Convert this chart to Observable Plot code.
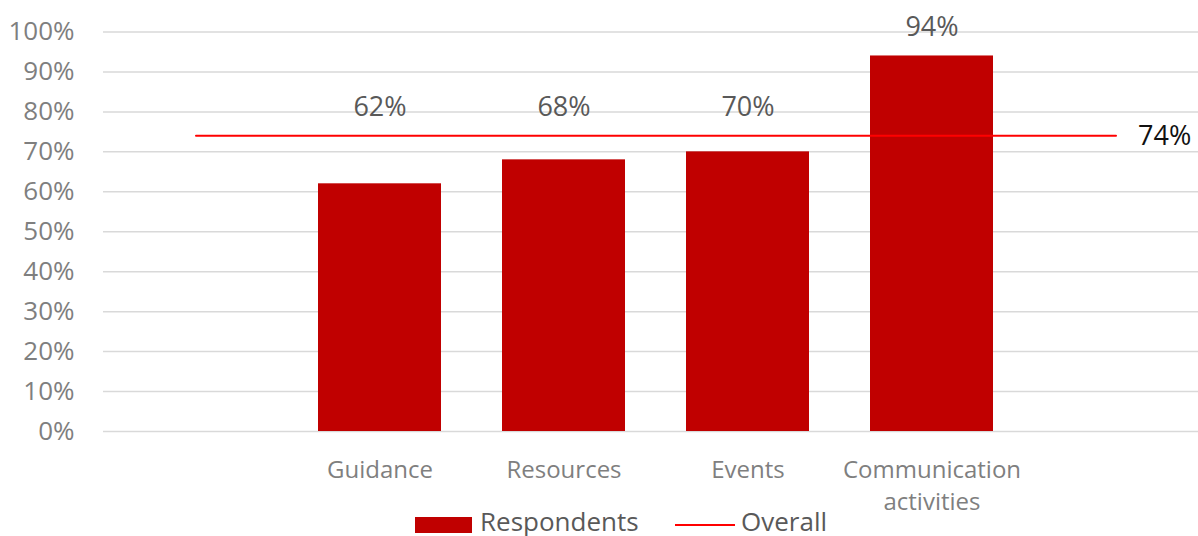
<!DOCTYPE html>
<html>
<head>
<meta charset="utf-8">
<script src="https://cdn.jsdelivr.net/npm/d3@7"></script>
<script src="https://cdn.jsdelivr.net/npm/@observablehq/plot@0.6"></script>
<style>
  body { margin: 0; background: #fff; font-family: 'Open Sans', sans-serif; }
  #wrap { width: 1198px; }
  #legend { position: relative; width: 1198px; height: 31px; }
  #legend .sw { position: absolute; }
  #legend .lb { position: absolute; font-size: 26px; color: #595959; line-height: normal; white-space: nowrap; }
</style>
</head>
<body>
<div id="wrap"></div>
<script>
const categories = ["Guidance", "Resources", "Events", "Communication\nactivities"];
const respondents = [62, 68, 70, 94];
const overall = 74;
const yTicks = [0, 10, 20, 30, 40, 50, 60, 70, 80, 90, 100];
// Excel chart has an empty category slot before and after the bars
const slots = ["", ...categories, " "];

const bars = categories.map((c, i) => ({category: c, value: respondents[i]}));

const chart = Plot.plot({
  width: 1198,
  height: 505,
  marginTop: 31.5,
  marginBottom: 74,
  marginLeft: 103,
  marginRight: 0,
  style: {fontFamily: "'Open Sans', sans-serif", background: "#fff", overflow: "visible"},
  x: {domain: slots, range: [103, 1208], paddingInner: 0.33, paddingOuter: 0.165},
  y: {domain: [0, 100], label: null},
  marks: [
    Plot.ruleY(yTicks, {stroke: "#d9d9d9", strokeWidth: 1.5}),
    Plot.barY(bars, {x: "category", y: "value", fill: "#c00000"}),
    Plot.line(slots, {x: d => d, y: () => overall, stroke: "#ff0000", strokeWidth: 2}),
    Plot.text(bars, {x: "category", y: d => Math.max(d.value, overall), text: d => d.value + "%", dy: -29, fill: "#595959", fontSize: 27}),
    Plot.text([overall], {x: () => slots[slots.length - 1], y: d => d, text: d => d + "%", textAnchor: "start", dx: 22, fill: "#111", fontSize: 27}),
    Plot.axisY({ticks: yTicks, tickFormat: d => d + "%", tickSize: 0, tickPadding: 29, fontSize: 26, fill: "#7f7f7f", label: null}),
    Plot.axisX({tickSize: 0, tickPadding: 24, fontSize: 24, lineHeight: 1.33, fill: "#7f7f7f", label: null})
  ]
});
document.getElementById("wrap").appendChild(chart);

const legend = document.createElement("div");
legend.id = "legend";
legend.innerHTML = `
  <div class="sw" style="left:415px;top:12px;width:57px;height:16px;background:#c00000"></div>
  <div class="lb" style="left:480px;top:-2px">Respondents</div>
  <div class="sw" style="left:675px;top:19px;width:60px;height:2px;background:#ff0000"></div>
  <div class="lb" style="left:741px;top:-2px">Overall</div>`;
document.getElementById("wrap").appendChild(legend);
</script>
</body>
</html>
